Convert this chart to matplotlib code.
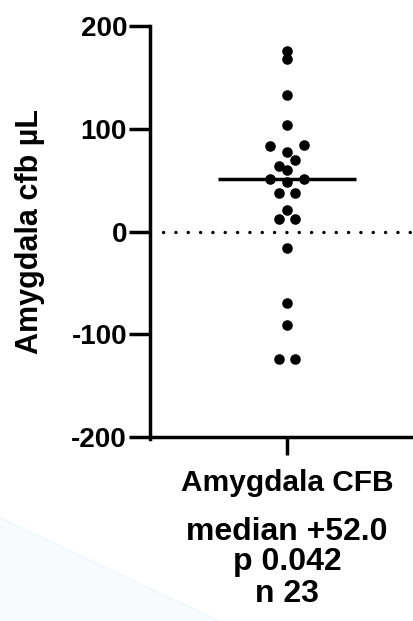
import numpy as np
import matplotlib.pyplot as plt
from matplotlib.lines import Line2D
from matplotlib.patches import Polygon

plt.rcParams['font.family'] = ['Liberation Sans', 'DejaVu Sans']
plt.rcParams['font.weight'] = 'bold'

# values (change from baseline, uL)
values = [176, 168, 133, 104, 84, 83, 77.5, 70, 63.5, 60, 51.5, 51.5, 48,
          37, 37, 21, 12, 12, -16.5, -70, -91, -124.5, -124.5]
group = "Amygdala CFB"
ylabel = "Amygdala cfb µL"
yticks = [-200, -100, 0, 100, 200]
stats = ["median +52.0", "p 0.042", "n 23"]

median = np.median(values)

# simple row-based swarm: group close values into rows, spread each row
vals = sorted(values, reverse=True)
rows = []
for v in vals:
    if rows and rows[-1][0] - v <= 7:
        rows[-1].append(v)
    else:
        rows.append([v])
xs, ys = [], []
step = 0.083
for r in rows:
    r = sorted(r)
    n = len(r)
    if n == 3:
        # lowest one in the middle
        placed = [(r[1], -2 * step), (r[0], 0), (r[2], 2 * step)]
    else:
        placed = [(v, (i - (n - 1) / 2) * 2 * step) for i, v in enumerate(r)]
    for v, x in placed:
        xs.append(x)
        ys.append(v)

fig = plt.figure(figsize=(4.13, 6.21), dpi=100)

# faint background swoosh in the lower left corner
fig.patches.append(Polygon([[0, 0], [0, 0.166], [0.53, 0.0]], closed=True,
                           transform=fig.transFigure, facecolor='#f8fbfe',
                           edgecolor='none', zorder=0))
for k in range(14):
    fig.add_artist(Line2D([0, 0.53 - k * 0.025], [0.166 - k * 0.011, 0.0],
                          transform=fig.transFigure, color='#d9ecf8',
                          lw=0.6, zorder=0))

ax = fig.add_axes([150 / 413, 1 - 437 / 621, 263 / 413, 411 / 621])
ax.set_facecolor('none')

ax.plot([-1.243, 1.26], [0, 0], color='black', lw=2.4,
        linestyle=(0, (0.05, 3.65)), dash_capstyle='round', zorder=1)
ax.plot([-0.69, 0.69], [median, median], color='black', lw=2.5,
        solid_capstyle='butt', zorder=2)
ax.plot(xs, ys, 'o', color='black', markersize=6.6, zorder=3)

ax.set_xlim(-1.37, 1.26)
ax.set_ylim(-200, 200)
ax.set_yticks(yticks)
ax.set_yticklabels([str(t) for t in yticks])
ax.set_xticks([0])
ax.set_xticklabels([group])
ax.set_ylabel(ylabel, fontsize=22, fontweight='bold')
ax.yaxis.set_label_coords(-0.40, 0.5)

for side in ['top', 'right']:
    ax.spines[side].set_visible(False)
for side in ['left', 'bottom']:
    ax.spines[side].set_linewidth(2.5)
ax.spines['left'].set_bounds(-202, 200)
ax.tick_params(axis='y', width=2.5, length=15, labelsize=20, pad=1.5)
ax.tick_params(axis='x', width=2.5, length=13, labelsize=21.5, pad=10)
for lab in ax.get_yticklabels() + ax.get_xticklabels():
    lab.set_fontweight('bold')

# summary lines under the group label
for txt, base in zip(stats, [540, 570, 602]):
    fig.text(287 / 413, 1 - base / 621, txt, ha='center', va='baseline',
             fontsize=23, fontweight='bold')

fig.savefig('out.png', dpi=100)
